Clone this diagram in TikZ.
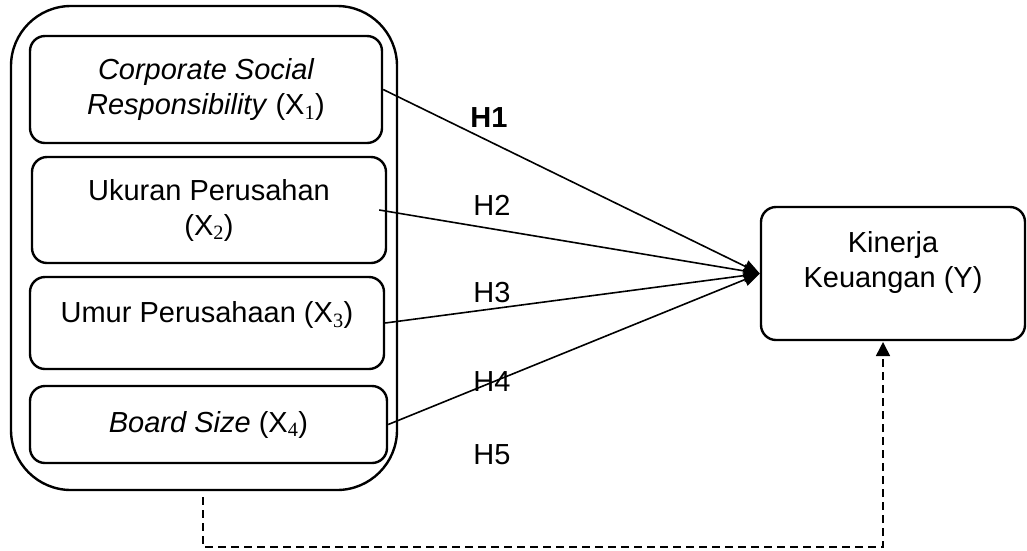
\documentclass[tikz,border=0pt]{standalone}
\usepackage{fontspec}
\setmainfont{Liberation Sans}
\newfontfamily\subfont{Liberation Serif}
\newcommand{\xsub}[1]{\textsubscript{\subfont\upshape #1}}
\usetikzlibrary{arrows.meta}
\begin{document}
\begin{tikzpicture}[x=1pt,y=-1pt,
  every node/.style={font=\fontsize{29}{35}\selectfont},
  varbox/.style={draw, line width=2.4pt, rounded corners=15pt, align=center, inner sep=0pt},
  outerbox/.style={draw, line width=2.4pt, rounded corners=60pt, inner sep=0pt},
  link/.style={line width=1.6pt, -{Triangle[length=16pt,width=13pt]}},
  dlink/.style={line width=1.6pt, dash pattern=on 8pt off 5pt, -{Triangle[length=14pt,width=14pt]}},
  hlabel/.style={inner sep=0pt}]
\useasboundingbox (0,0) rectangle (1027,550);
\node[outerbox, minimum width=386pt, minimum height=484pt] (outer) at (204,248) {};
\node[varbox, minimum width=352pt, minimum height=107pt] (x1) at (206,89.5)
  {\itshape Corporate Social\\\textit{Responsibility} \upshape(X\xsub{1})};
\node[varbox, minimum width=354pt, minimum height=106pt] (x2) at (209,210)
  {Ukuran Perusahan\\(X\xsub{2})};
\node[varbox, minimum width=354pt, minimum height=92pt,
  label={[name=x3text, yshift=8pt]center:Umur Perusahaan (X\xsub{3})}] (x3) at (207,323) {};
\node[varbox, minimum width=357pt, minimum height=77pt] (x4) at (208.5,424.5)
  {\textit{Board Size} (X\xsub{4})};
\node[varbox, minimum width=264pt, minimum height=133pt,
  label={[name=ytext, align=center, yshift=11pt]center:Kinerja\\Keuangan (Y)}] (y) at (893,273.5) {};
\draw[link] (x1.east) -- (y.west);
\draw[link] ([xshift=-8pt]x2.east) -- (y.west);
\draw[link] (x3.east) -- (y.west);
\draw[link] (x4.east) -- (y.west);
\node[hlabel, font=\fontsize{29}{35}\selectfont\bfseries] (h1) at (489,118) {H1};
\node[hlabel] (h2) at (492,205) {H2};
\node[hlabel] (h3) at (492,293) {H3};
\node[hlabel] (h4) at (492,382) {H4};
\node[hlabel] (h5) at (492,455) {H5};
\coordinate (d0) at (203,497);
\coordinate (d1) at (203,547);
\coordinate (d2) at (883,547);
\coordinate (d3) at (883,342);
\draw[dlink] (d0) -- (d1) -- (d2) -- (d3);
\end{tikzpicture}
\end{document}
